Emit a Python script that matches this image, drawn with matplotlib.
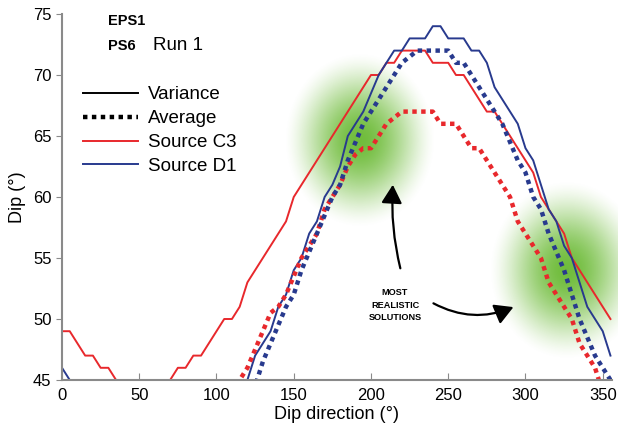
import numpy as np
import matplotlib
matplotlib.use("Agg")
import matplotlib.pyplot as plt
from matplotlib.lines import Line2D
from matplotlib.patches import FancyArrowPatch

plt.rcParams['font.family'] = ['Liberation Sans', 'DejaVu Sans']

# Dip direction (deg), every 5 degrees
dip_dir = np.arange(0, 360, 5)
nan = np.nan

# Source C3, variance (solid red)
c3_var = [49, 49, 48, 47, 47, 46, 46, 45, 45, 44, nan, nan, 44, 45, 45, 46,
          46, 47, 47, 48, 49, 50, 50, 51, 53, 54, 55, 56, 57, 58, 60, 61,
          62, 63, 64, 65, 66, 67, 68, 69, 70, 70, 71, 71, 72, 72, 72, 72,
          71, 71, 71, 70, 70, 69, 68, 67, 67, 66, 65, 64, 63, 62, 60, 59,
          58, 57, 55, 54, 53, 52, 51, 50]
# Source D1, variance (solid blue)
d1_var = [46, 45, 44, nan, nan, nan, nan, nan, nan, nan, nan, nan, nan, nan, nan, nan,
          nan, nan, nan, nan, nan, nan, nan, 44, 45, 47, 48, 49, 51, 52, 54, 55,
          57, 58, 60, 61, 62.5, 65, 66, 67, 68.5, 70, 71, 72, 72, 73, 73, 73,
          74, 74, 73, 73, 73, 72, 72, 71, 69, 68, 67, 66, 64, 63, 61, 59,
          58, 56, 55, 53, 51, 50, 49, 47]
# Source C3, average (dotted red)
c3_avg = [nan] * 22 + [44, 45, 46, 47.5, 49, 50.5, 51, 52, 53.5, 55,
          56, 57, 59, 60, 61, 62.5, 63.5, 64, 64, 65, 66, 66.5, 67, 67,
          67, 67, 67, 66, 66, 66, 65, 64, 64, 63, 62, 61, 60, 58, 57, 56,
          55, 53, 52, 51, 50, 48, 47, 46, 44, 43]
# Source D1, average (dotted blue)
d1_avg = [nan] * 24 + [43.5, 44.5, 46.5, 48, 49.5, 51, 52, 54,
          55.5, 57, 58.5, 60, 61, 63, 64.5, 66, 67, 68, 69, 70, 71, 71.5,
          72, 72, 72, 72, 72, 71, 71, 70, 69, 68, 67, 66, 64.5, 63, 62, 60,
          59, 57, 55.5, 54, 52, 50, 48.5, 47, 46, 45]

red = '#e8282c'
blue = '#283a8e'
grey = '#8a8a8a'

fig = plt.figure(figsize=(6.18, 4.34), dpi=100)

# background layer (pixel coordinates) for the highlight blobs and notes
bg = fig.add_axes([0, 0, 1, 1], zorder=0)
bg.set_xlim(0, 618)
bg.set_ylim(434, 0)
bg.axis('off')

def blob(cx, cy, rx, ry, tilt=0.0):
    n = 240
    yy, xx = np.mgrid[-1:1:n * 1j, -1:1:n * 1j]
    c, s = np.cos(tilt), np.sin(tilt)
    u = xx * c + yy * s
    v = -xx * s + yy * c
    r = np.sqrt(u ** 2 + v ** 2)
    t = np.clip(r, 0, 1)
    alpha = 0.9 * (1 - t * t * (3 - 2 * t)) ** 0.8
    img = np.zeros((n, n, 4))
    img[..., 0] = 0.38
    img[..., 1] = 0.71
    img[..., 2] = 0.15
    img[..., 3] = alpha
    bg.imshow(img, extent=(cx - rx, cx + rx, cy + ry, cy - ry), interpolation='bilinear')

blob(360, 140, 76, 88)
blob(567, 270, 78, 90, tilt=0.35)

ax = fig.add_axes([62 / 618, 1 - 380 / 434, 550 / 618, 366 / 434], zorder=1)
ax.patch.set_alpha(0)

ax.plot(dip_dir, c3_var, color=red, lw=1.4)
ax.plot(dip_dir, d1_var, color=blue, lw=1.4)
ax.plot(dip_dir, c3_avg, color=red, lw=3.2, linestyle=(0, (1, 1)), dash_capstyle='butt')
ax.plot(dip_dir, d1_avg, color=blue, lw=3.2, linestyle=(0, (1, 1)), dash_capstyle='butt')

ax.set_xlim(0, 356)
ax.set_ylim(45, 75)
ax.set_xticks([0, 50, 100, 150, 200, 250, 300, 350])
ax.set_yticks([45, 50, 55, 60, 65, 70, 75])
for s in ['top', 'right']:
    ax.spines[s].set_visible(False)
for s in ['left', 'bottom']:
    ax.spines[s].set_color(grey)
    ax.spines[s].set_linewidth(1.5)
ax.tick_params(axis='x', direction='in', length=5, color=grey, labelsize=12, pad=6)
ax.tick_params(axis='y', direction='out', length=4, color=grey, labelsize=12)
ax.set_xlabel('Dip direction (°)', fontsize=13, labelpad=2)
ax.set_ylabel('Dip (°)', fontsize=13, labelpad=5)

handles = [Line2D([], [], color='black', lw=1.4),
           Line2D([], [], color='black', lw=3.2, linestyle=(0, (1, 1))),
           Line2D([], [], color=red, lw=1.4),
           Line2D([], [], color=blue, lw=1.4)]
labels = ['Variance', 'Average', 'Source C3', 'Source D1']
ax.legend(handles, labels, loc='upper left', bbox_to_anchor=(0.025, 0.823),
          frameon=False, fontsize=13.5, handlelength=2.9, handletextpad=0.55,
          labelspacing=0.36, borderaxespad=0)

bg.text(108, 21, 'EPS1', fontsize=10.5, fontweight='bold', va='center')
bg.text(108, 46, 'PS6', fontsize=10.5, fontweight='bold', va='center')
bg.text(153, 46, 'Run 1', fontsize=13.5, va='center')

bg.text(395, 305, 'MOST\nREALISTIC\nSOLUTIONS', fontsize=6.6, fontweight='bold',
        ha='center', va='center', linespacing=1.5)

arrow_style = dict(arrowstyle='-|>,head_length=8,head_width=4.5', color='black',
                   lw=1.6, mutation_scale=1.4)
bg.add_patch(FancyArrowPatch((401, 271), (393, 182), connectionstyle='arc3,rad=-0.08',
                             **arrow_style))
bg.add_patch(FancyArrowPatch((431, 302), (516, 306), connectionstyle='arc3,rad=0.25',
                             **arrow_style))

fig.savefig('out.png', dpi=100)
